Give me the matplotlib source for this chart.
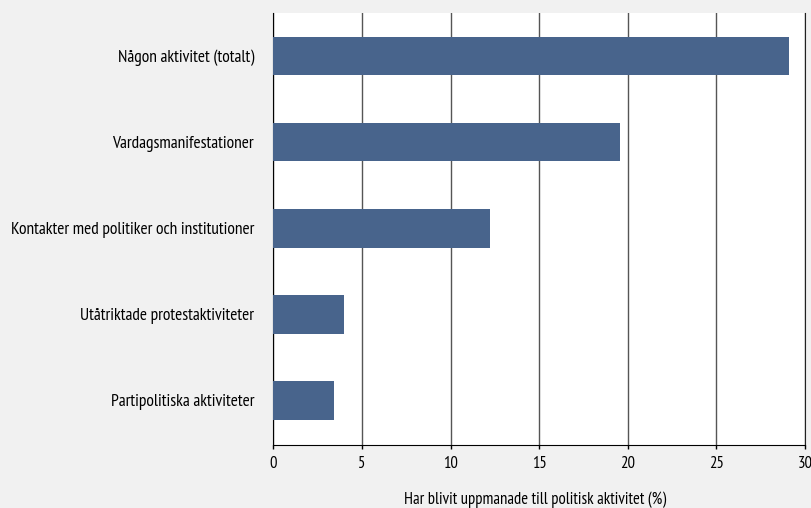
import matplotlib.pyplot as plt

# kategorier och andel (%) som blivit uppmanade
kategorier = ["Någon aktivitet (totalt)", "Vardagsmanifestationer",
              "Kontakter med politiker och institutioner",
              "Utåtriktade protestaktiviteter", "Partipolitiska aktiviteter"]
andel = [29.1, 19.55, 12.2, 4.0, 3.4]
xticks = [0, 5, 10, 15, 20, 25, 30]

plt.rcParams['font.family'] = ['PT Sans Narrow', 'DejaVu Sans']

fig = plt.figure(figsize=(8.12, 5.08), dpi=100, facecolor='#f1f1f1')
ax = fig.add_axes([0.3368, 0.124, 0.6546, 0.8504])
ax.set_facecolor('white')

pos = list(range(len(kategorier)))
ax.barh(pos, andel, height=0.45, color='#48648c', zorder=3)
ax.set_ylim(4.52, -0.5)
ax.set_xlim(0, 30)
ax.set_xticks(xticks)
ax.set_xticklabels([str(t) for t in xticks], fontsize=12)
ax.set_yticks(pos)
ax.set_yticklabels(kategorier, fontsize=12.5)
ax.tick_params(axis='y', length=0, pad=14)
ax.tick_params(axis='x', length=3, width=1, color='black', pad=5)

ax.grid(axis='x', color='#555555', linewidth=1, zorder=1)
ax.spines['top'].set_visible(False)
ax.spines['left'].set_color('black')
ax.spines['bottom'].set_color('black')
ax.spines['right'].set_color('#222222')
ax.set_xlabel("Har blivit uppmanade till politisk aktivitet (%)", fontsize=12, va='top')
ax.xaxis.set_label_coords(0.492, -0.107)

fig.savefig('out.png', dpi=100, facecolor=fig.get_facecolor())
